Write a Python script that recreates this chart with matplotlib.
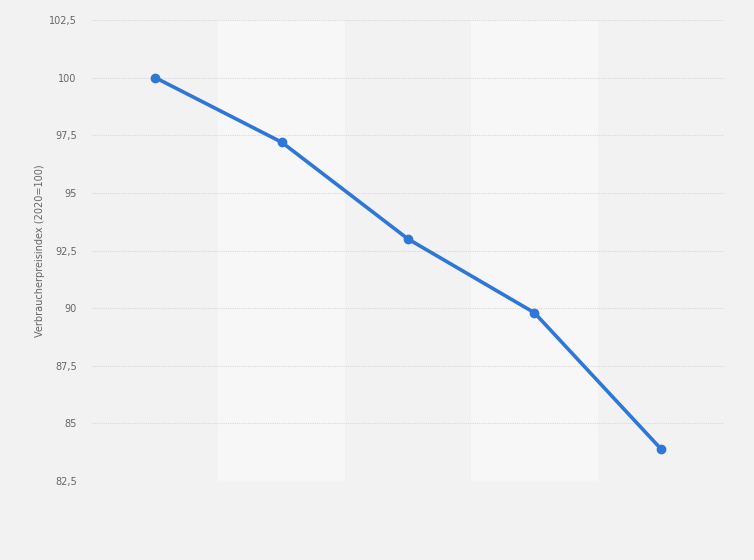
import matplotlib.pyplot as plt
from matplotlib.ticker import FuncFormatter

# data (index, 2020=100)
years = ['2019', '2020', '2021', '2022', '2023']
index_values = [100.0, 97.2, 93.0, 89.8, 83.9]
y_ticks = [82.5, 85, 87.5, 90, 92.5, 95, 97.5, 100, 102.5]

W, H = 754, 560
fig = plt.figure(figsize=(W / 100, H / 100), dpi=100)
fig.patch.set_facecolor('#f2f2f2')

ax = fig.add_axes([92 / W, 1 - 481 / H, (724 - 92) / W, (481 - 20) / H])
ax.set_facecolor('#f2f2f2')

x = list(range(len(years)))

# alternating column bands
for i in x:
    if i % 2 == 1:
        ax.axvspan(i - 0.5, i + 0.5, color='#f7f7f7', zorder=0, lw=0)

ax.plot(x, index_values, color='#2f76d9', lw=2.6, marker='o', ms=6,
        solid_capstyle='round', zorder=3)

ax.set_xlim(-0.5, len(years) - 0.5)
ax.set_ylim(82.5, 102.5)
ax.set_yticks(y_ticks)
ax.yaxis.set_major_formatter(FuncFormatter(
    lambda v, p: ('%g' % v).replace('.', ',')))
ax.set_xticks([])
ax.grid(axis='y', color='#d9d9d9', linestyle=(0, (1, 1)), lw=0.8, zorder=1)
ax.tick_params(axis='y', length=0, pad=11, labelsize=7, labelcolor='#666666')
for s in ax.spines.values():
    s.set_visible(False)

ax.set_ylabel('Verbraucherpreisindex (2020=100)', fontsize=7, color='#666666')
ax.yaxis.set_label_coords(-0.074, 0.5)

fig.savefig('out.png', dpi=100, facecolor=fig.get_facecolor())
